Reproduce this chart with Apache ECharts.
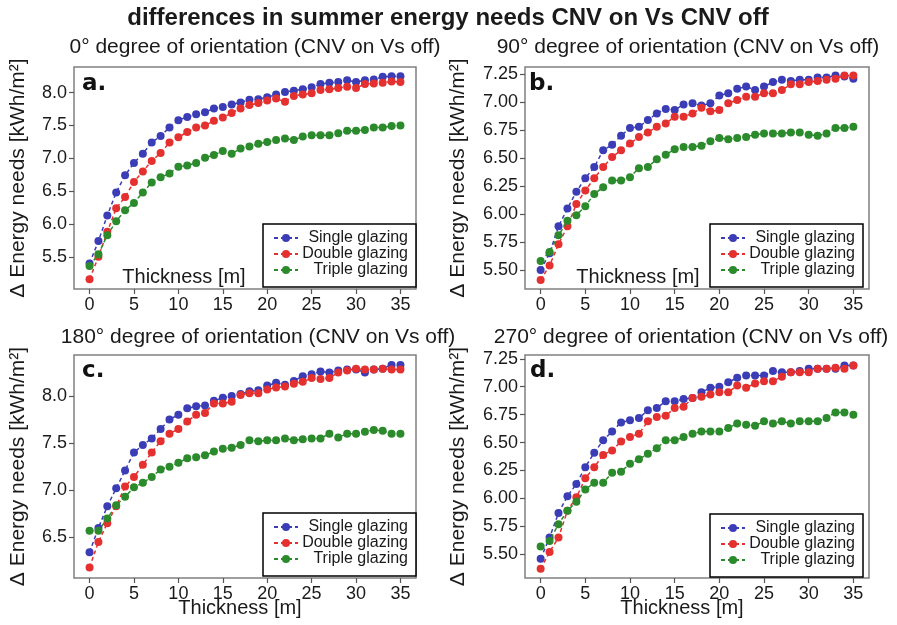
<!DOCTYPE html>
<html>
<head>
<meta charset="utf-8">
<script src="https://cdn.jsdelivr.net/npm/echarts@6.0.0/dist/echarts.min.js"></script>
<style>
html,body{margin:0;padding:0;background:#fff;}
#chart{width:897px;height:625px;}
</style>
</head>
<body>
<div id="chart"></div>
<script>
// ---------- data ----------
const thickness = [0,1,2,3,4,5,6,7,8,9,10,11,12,13,14,15,16,17,18,19,20,21,22,23,24,25,26,27,28,29,30,31,32,33,34,35];
const seriesNames = ['Single glazing', 'Double glazing', 'Triple glazing'];

const singleA = [5.40,5.74,6.13,6.48,6.74,6.93,7.07,7.24,7.34,7.47,7.58,7.63,7.67,7.70,7.76,7.78,7.82,7.85,7.89,7.90,7.93,7.97,8.01,8.03,8.05,8.08,8.13,8.15,8.16,8.19,8.16,8.19,8.20,8.24,8.25,8.25];
const doubleA = [5.16,5.50,5.88,6.24,6.41,6.64,6.80,6.96,7.08,7.24,7.32,7.40,7.47,7.50,7.57,7.62,7.69,7.76,7.81,7.84,7.88,7.91,7.86,7.95,7.97,7.99,8.04,8.05,8.07,8.09,8.07,8.13,8.14,8.15,8.17,8.16];
const tripleA = [5.36,5.54,5.83,6.04,6.21,6.32,6.48,6.63,6.71,6.77,6.87,6.89,6.93,7.01,7.05,7.11,7.07,7.15,7.18,7.22,7.25,7.28,7.30,7.28,7.33,7.35,7.35,7.35,7.38,7.42,7.42,7.43,7.47,7.47,7.49,7.50];

const singleB = [5.50,5.65,5.89,6.05,6.20,6.32,6.42,6.57,6.62,6.70,6.77,6.78,6.84,6.90,6.94,6.93,6.98,6.99,6.97,6.99,7.06,7.08,7.12,7.14,7.11,7.14,7.18,7.20,7.19,7.20,7.20,7.22,7.22,7.24,7.23,7.21];
const doubleB = [5.41,5.54,5.73,5.89,6.09,6.21,6.32,6.42,6.51,6.57,6.63,6.69,6.73,6.78,6.81,6.87,6.87,6.90,6.95,6.92,6.93,6.99,7.02,7.05,7.05,7.08,7.08,7.11,7.16,7.16,7.18,7.19,7.20,7.21,7.24,7.24];
const tripleB = [5.58,5.66,5.81,5.94,5.99,6.07,6.18,6.24,6.30,6.30,6.33,6.41,6.42,6.49,6.53,6.58,6.60,6.60,6.61,6.65,6.68,6.67,6.68,6.69,6.71,6.72,6.72,6.72,6.73,6.73,6.71,6.70,6.72,6.77,6.77,6.78];

const singleC = [6.34,6.60,6.83,7.02,7.21,7.40,7.48,7.55,7.65,7.75,7.80,7.87,7.89,7.90,7.95,7.98,8.00,8.02,8.05,8.06,8.11,8.14,8.12,8.16,8.21,8.23,8.26,8.25,8.27,8.28,8.28,8.25,8.28,8.29,8.33,8.33];
const doubleC = [6.18,6.45,6.65,6.83,7.04,7.14,7.27,7.40,7.52,7.60,7.65,7.73,7.80,7.82,7.92,7.92,7.94,8.01,8.03,8.03,8.07,8.09,8.10,8.13,8.15,8.19,8.18,8.19,8.25,8.27,8.29,8.28,8.28,8.29,8.28,8.28];
const tripleC = [6.57,6.57,6.70,6.84,6.93,7.03,7.08,7.14,7.22,7.25,7.29,7.34,7.35,7.37,7.41,7.44,7.45,7.48,7.53,7.52,7.53,7.53,7.55,7.53,7.54,7.55,7.55,7.60,7.56,7.60,7.60,7.62,7.64,7.63,7.60,7.60];

const singleD = [5.46,5.65,5.87,6.02,6.13,6.28,6.41,6.52,6.60,6.68,6.70,6.72,6.79,6.81,6.87,6.87,6.89,6.90,6.95,6.99,7.00,7.04,7.08,7.10,7.10,7.10,7.14,7.13,7.13,7.14,7.16,7.16,7.16,7.16,7.19,7.19];
const doubleD = [5.37,5.52,5.65,5.89,6.01,6.18,6.28,6.39,6.43,6.51,6.55,6.58,6.69,6.73,6.74,6.81,6.82,6.90,6.91,6.93,6.95,6.95,7.01,6.99,7.03,7.05,7.05,7.09,7.13,7.13,7.13,7.16,7.16,7.17,7.16,7.19];
const tripleD = [5.57,5.62,5.77,5.89,5.97,6.08,6.14,6.14,6.23,6.24,6.31,6.35,6.40,6.45,6.52,6.52,6.55,6.58,6.60,6.60,6.60,6.63,6.67,6.66,6.65,6.69,6.67,6.69,6.67,6.69,6.69,6.69,6.72,6.77,6.77,6.75];

const xTicks = [0,5,10,15,20,25,30,35];
const yTicksA = [5.5,6.0,6.5,7.0,7.5,8.0];
const yTicksB = [5.50,5.75,6.00,6.25,6.50,6.75,7.00,7.25];
const yTicksC = [6.5,7.0,7.5,8.0];
const yTicksD = [5.50,5.75,6.00,6.25,6.50,6.75,7.00,7.25];

const panelTitles = ['0° degree of orientation (CNV on Vs off)', '90° degree of orientation (CNV on Vs off)',
                     '180° degree of orientation (CNV on Vs off)', '270° degree of orientation (CNV on Vs off)'];
const panelLetters = ['a.', 'b.', 'c.', 'd.'];
const mainTitle = 'differences in summer energy needs CNV on Vs CNV off';
const xName = 'Thickness [m]';
const yName = 'Δ Energy needs [kWh/m²]';

// ---------- layout / style ----------
const FONT = '"Liberation Sans", Arial, sans-serif';
const colors = ['#3b3db6', '#e53030', '#2b8a2b'];
const panelData = [[singleA, doubleA, tripleA], [singleB, doubleB, tripleB], [singleC, doubleC, tripleC], [singleD, doubleD, tripleD]];
const yTicks = [yTicksA, yTicksB, yTicksC, yTicksD];
const yRanges = [[5.01, 8.39], [5.33, 7.315], [6.068, 8.435], [5.288, 7.284]];
const decimals = [1, 2, 1, 2];
const grids = [
  {left: 74, top: 67, width: 342, height: 222},
  {left: 525, top: 67, width: 344, height: 222},
  {left: 74, top: 355, width: 342, height: 223},
  {left: 525, top: 355, width: 344, height: 223}
];
const nameGaps = [45, 56, 45, 56];
const legendPos = [{left: 263, top: 224}, {left: 710, top: 224}, {left: 263, top: 513}, {left: 710, top: 514}];
const titlePos = [[255, 47], [688, 47], [258, 337], [691, 337]];
const letterPos = [[82, 84], [529, 84], [82, 371], [530, 371]];
const xNamePos = [[184, 277], [638, 277], [240, 608], [682, 608]];

function pairs(vals) { return vals.map((v, i) => [thickness[i], v]); }

const option = {
  animation: false,
  backgroundColor: '#fff',
  grid: grids.map(g => Object.assign({show: true, borderColor: '#808080', borderWidth: 1.5, backgroundColor: 'transparent'}, g)),
  xAxis: grids.map((g, i) => ({
    type: 'value', gridIndex: i, min: -1.75, max: 36.75, position: 'bottom',
    axisLine: {show: false, onZero: false},
    splitLine: {show: false},
    axisTick: {show: true, customValues: xTicks, length: 5, lineStyle: {color: '#555', width: 1.2}},
    axisLabel: {customValues: xTicks, margin: 7, fontSize: 18, fontFamily: FONT, color: '#1a1a1a'}
  })),
  yAxis: grids.map((g, i) => ({
    type: 'value', gridIndex: i, min: yRanges[i][0], max: yRanges[i][1], position: 'left',
    axisLine: {show: false, onZero: false},
    splitLine: {show: false},
    axisTick: {show: true, customValues: yTicks[i], length: 5, lineStyle: {color: '#555', width: 1.2}},
    axisLabel: {customValues: yTicks[i], margin: 7, fontSize: 18, fontFamily: FONT, color: '#1a1a1a',
      formatter: v => Number(v).toFixed(decimals[i])},
    name: yName, nameLocation: 'middle', nameRotate: 90, nameGap: nameGaps[i],
    nameTextStyle: {fontSize: 21, fontFamily: FONT, color: '#1a1a1a'}
  })),
  legend: legendPos.map(p => ({
    left: p.left, top: p.top, orient: 'vertical',
    data: seriesNames, selectedMode: false,
    itemWidth: 24, itemHeight: 10, itemGap: 0,
    padding: [6, 8, 9, 10],
    borderColor: '#000', borderWidth: 1.5, borderRadius: 0,
    backgroundColor: 'rgba(255,255,255,0.85)',
    formatter: '{t|{name}}',
    textStyle: {
      fontSize: 16, fontFamily: FONT, color: '#1a1a1a', lineHeight: 15,
      rich: {t: {width: 105, align: 'right', fontSize: 16, fontFamily: FONT, color: '#1a1a1a', lineHeight: 15}}
    }
  })),
  series: [],
  graphic: []
};

panelData.forEach((arrs, p) => {
  arrs.forEach((vals, s) => {
    option.series.push({
      type: 'line', name: seriesNames[s], xAxisIndex: p, yAxisIndex: p,
      data: pairs(vals),
      symbol: 'circle', symbolSize: 8, showSymbol: true,
      lineStyle: {type: [4, 3], width: 1.5, color: colors[s]},
      itemStyle: {color: colors[s]},
      z: 2 + s
    });
  });
});

option.graphic.push({
  type: 'text', x: 448, y: 18,
  style: {text: mainTitle, fontSize: 24, fontWeight: 'bold', fontFamily: FONT, fill: '#1a1a1a', align: 'center', verticalAlign: 'middle'}
});
panelTitles.forEach((t, i) => {
  option.graphic.push({
    type: 'text', x: titlePos[i][0], y: titlePos[i][1],
    style: {text: t, fontSize: 21, fontFamily: FONT, fill: '#1a1a1a', align: 'center', verticalAlign: 'middle'}
  });
  option.graphic.push({
    type: 'text', x: letterPos[i][0], y: letterPos[i][1], z: 100,
    style: {text: panelLetters[i], fontSize: 23, fontWeight: 'bold', fontFamily: '"DejaVu Sans", sans-serif', fill: '#111', align: 'left', verticalAlign: 'middle'}
  });
  option.graphic.push({
    type: 'text', x: xNamePos[i][0], y: xNamePos[i][1], z: 100,
    style: {text: xName, fontSize: 20, fontFamily: FONT, fill: '#1a1a1a', align: 'center', verticalAlign: 'middle'}
  });
});

const chart = echarts.init(document.getElementById('chart'), null, {renderer: 'canvas'});
chart.setOption(option);
</script>
</body>
</html>
